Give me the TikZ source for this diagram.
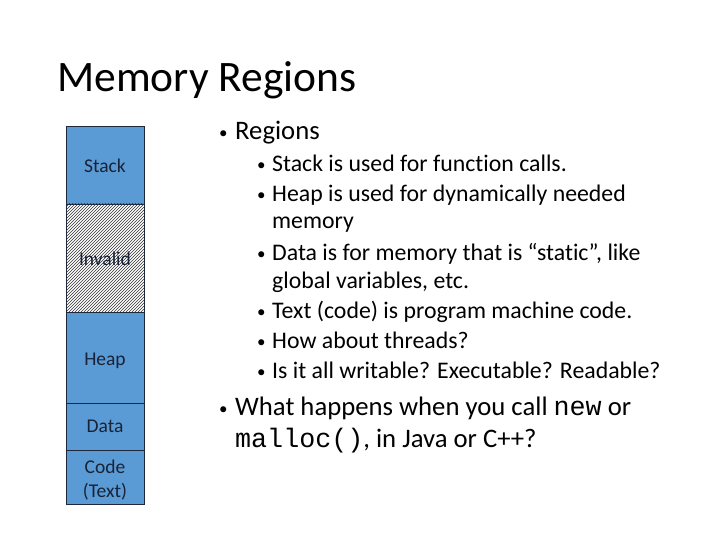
\documentclass[tikz,border=0pt]{standalone}
\usepackage{fontspec}
\setmainfont{Carlito}[Ligatures={NoCommon}]
\newfontfamily\codefont{Liberation Mono}
\usetikzlibrary{patterns}
\definecolor{regfill}{RGB}{91,155,213}
\definecolor{regline}{RGB}{30,40,60}
\definecolor{regtext}{RGB}{25,35,55}
\newcommand{\blt}[1]{\makebox[#1][l]{\raisebox{1pt}{\fontsize{17}{17}\selectfont •}}}
\tikzset{
  region/.style={draw=regline, line width=0.8pt, fill=regfill},
  invalidregion/.style={draw=regline, line width=0.8pt, pattern=north east lines, pattern color=black!80},
  regionlabel/.style={text=regtext, anchor=base, inner sep=0pt, font=\fontsize{19.5}{24}\selectfont, align=center},
  lvlone/.style={anchor=base west, inner sep=0pt, font=\fontsize{26.7}{31}\selectfont},
  lvltwo/.style={anchor=base west, inner sep=0pt, font=\fontsize{23.8}{28}\selectfont},
  titlestyle/.style={anchor=base west, inner sep=0pt, font=\fontsize{43.5}{48}\selectfont}
}
\begin{document}
\begin{tikzpicture}[x=1pt,y=-1pt]
\useasboundingbox[fill=white] (0,0) rectangle (720,540);
% title
\node[titlestyle] (title) at (57,92) {Memory Regions};
% memory column
\fill[white] (66,204) rectangle (144,312);
\draw[region] (66,126) rectangle (144,204);
\draw[invalidregion] (66,204) rectangle (144,312);
\draw[region] (66,312) rectangle (144,403);
\draw[region] (66,403) rectangle (144,450);
\draw[region] (66,450) rectangle (144,504);
\node[regionlabel] (stack) at (105,173) {Stack};
\node[regionlabel] (invalid) at (105,265) {Invalid};
\node[regionlabel] (heap) at (105,365) {Heap};
\node[regionlabel] (data) at (105,432) {Data};
\node[regionlabel] (code) at (105,497) {Code\\(Text)};
% bullets
\node[lvlone] (b1) at (219,140) {\blt{16pt}Regions};
\node[lvltwo] (s1) at (257,172) {\blt{15pt}Stack is used for function calls.};
\node[lvltwo] (s2) at (257,202) {\blt{15pt}Heap is used for dynamically needed};
\node[lvltwo] (s2b) at (272,229) {memory};
\node[lvltwo] (s3) at (257,260) {\blt{15pt}Data is for memory that is “static”, like};
\node[lvltwo] (s3b) at (272,288) {global variables, etc.};
\node[lvltwo] (s4) at (257,318) {\blt{15pt}Text (code) is program machine code.};
\node[lvltwo] (s5) at (257,348) {\blt{15pt}How about threads?};
\node[lvltwo] (s6) at (257,378) {\blt{15pt}Is it all writable? Executable? Readable?};
\node[lvlone] (b2) at (219,415) {\blt{16pt}What happens when you call {\codefont new} or};
\node[lvlone] (b2b) at (235,447) {{\codefont malloc()}, in Java or C++?};
\end{tikzpicture}
\end{document}
